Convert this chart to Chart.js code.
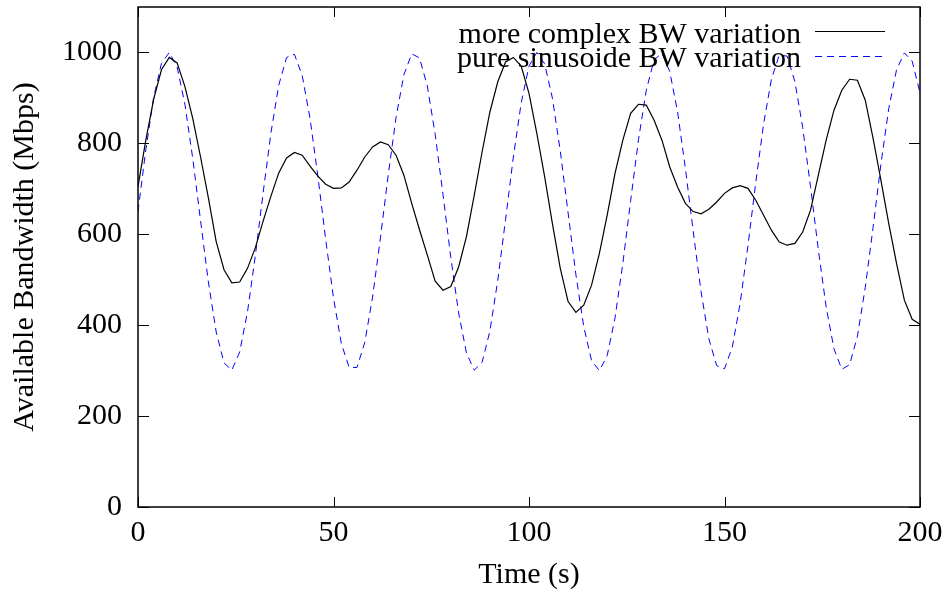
<!DOCTYPE html>
<html>
<head>
<meta charset="utf-8">
<script src="https://cdn.jsdelivr.net/npm/chart.js@4.4.1/dist/chart.umd.min.js"></script>
<style>
  html, body { margin: 0; padding: 0; background: #fff; }
  #wrap { width: 948px; height: 590px; }
</style>
</head>
<body>
<div id="wrap"><canvas id="bwChart" width="948" height="590"></canvas></div>
<script>
// sample times (s), one point every 2 s
const timeSec = [
  0, 2, 4, 6, 8, 10, 12, 14, 16, 18, 20, 22, 24, 26, 28, 30, 32, 34, 36, 38,
  40, 42, 44, 46, 48, 50, 52, 54, 56, 58, 60, 62, 64, 66, 68, 70, 72, 74, 76, 78,
  80, 82, 84, 86, 88, 90, 92, 94, 96, 98, 100, 102, 104, 106, 108, 110, 112, 114, 116, 118,
  120, 122, 124, 126, 128, 130, 132, 134, 136, 138, 140, 142, 144, 146, 148, 150, 152, 154, 156, 158,
  160, 162, 164, 166, 168, 170, 172, 174, 176, 178, 180, 182, 184, 186, 188, 190, 192, 194, 196, 198, 200
];

// black solid line (Mbps)
const complexBW = [
  705, 807, 897, 962, 989, 977, 925, 855, 770, 680, 584, 522, 493, 495, 525, 570, 629, 684, 735, 768,
  780, 774, 750, 728, 710, 701, 702, 715, 741, 770, 792, 803, 797, 774, 730, 668, 610, 554, 497, 477,
  485, 528, 595, 686, 781, 869, 935, 979, 989, 970, 910, 822, 727, 623, 525, 452, 428, 444, 488, 558,
  642, 734, 807, 866, 886, 884, 851, 807, 748, 704, 668, 650, 645, 655, 671, 690, 702, 707, 701, 675,
  642, 609, 583, 576, 580, 605, 653, 730, 807, 873, 917, 941, 939, 895, 811, 719, 624, 536, 455, 413, 402
];

// blue dashed line (Mbps)
const sineBW = [
  650, 786, 901, 976, 1000, 968, 886, 767, 630, 495, 385, 317, 301, 341, 429, 552, 691, 823, 928, 989,
  996, 949, 855, 728, 589, 460, 360, 307, 307, 362, 462, 592, 731, 857, 951, 997, 988, 926, 820, 688,
  549, 427, 339, 301, 318, 387, 498, 632, 770, 889, 970, 1000, 975, 899, 783, 647, 511, 397, 322, 300,
  333, 416, 536, 674, 808, 917, 984, 998, 958, 869, 745, 606, 474, 370, 311, 304, 352, 448, 575, 714,
  843, 941, 994, 992, 936, 835, 705, 566, 440, 348, 303, 313, 376, 483, 615, 754, 876, 962, 999, 981, 911
];

const seriesNames = ["more complex BW variation", "pure sinusoide BW variation"];
const xTicks = [0, 50, 100, 150, 200];
const yTicks = [0, 200, 400, 600, 800, 1000];

const FONT = "'Liberation Serif', 'Times New Roman', serif";
Chart.defaults.color = "#000";
Chart.defaults.font.family = FONT;
Chart.defaults.font.size = 30;

// gnuplot look: closed border, inward ticks on every side, key top right
const framePlugin = {
  id: "frame",
  afterDatasetsDraw(chart) {
    const { ctx, chartArea: a, scales } = chart;
    ctx.save();
    ctx.strokeStyle = "#000";
    ctx.lineWidth = 1;
    ctx.setLineDash([]);
    ctx.beginPath();
    xTicks.forEach((v) => {
      const px = Math.round(scales.x.getPixelForValue(v)) + 0.5;
      ctx.moveTo(px, a.bottom);
      ctx.lineTo(px, a.bottom - 10);
      ctx.moveTo(px, a.top);
      ctx.lineTo(px, a.top + 10);
    });
    yTicks.forEach((v) => {
      const py = Math.round(scales.y.getPixelForValue(v)) + 0.5;
      ctx.moveTo(a.left, py);
      ctx.lineTo(a.left + 11, py);
      ctx.moveTo(a.right, py);
      ctx.lineTo(a.right - 11, py);
    });
    ctx.stroke();

    ctx.lineWidth = 1.5;
    ctx.strokeRect(a.left, a.top, a.right - a.left, a.bottom - a.top);

    // key
    ctx.font = "30px " + FONT;
    ctx.textAlign = "right";
    ctx.textBaseline = "alphabetic";
    chart.data.datasets.forEach((ds, i) => {
      ctx.fillStyle = "#000";
      ctx.fillText(ds.label, a.right - 119, a.top + 36 + i * 24);
      ctx.strokeStyle = ds.borderColor;
      ctx.lineWidth = ds.borderWidth;
      ctx.setLineDash(ds.borderDash || []);
      ctx.beginPath();
      ctx.moveTo(a.right - 105, a.top + 24.5 + i * 25);
      ctx.lineTo(a.right - 35, a.top + 24.5 + i * 25);
      ctx.stroke();
    });
    ctx.restore();
  }
};

new Chart(document.getElementById("bwChart"), {
  type: "line",
  data: {
    datasets: [
      {
        label: seriesNames[0],
        data: timeSec.map((t, i) => ({ x: t, y: complexBW[i] })),
        borderColor: "#000000",
        borderWidth: 1.2,
        pointRadius: 0,
        tension: 0,
      },
      {
        label: seriesNames[1],
        data: timeSec.map((t, i) => ({ x: t, y: sineBW[i] })),
        borderColor: "#0000ff",
        borderWidth: 1,
        borderDash: [7, 5],
        pointRadius: 0,
        tension: 0,
      },
    ],
  },
  options: {
    responsive: false,
    animation: false,
    devicePixelRatio: 1,
    layout: { padding: { left: 0, right: 28, top: 7, bottom: 0 } },
    plugins: { legend: { display: false }, tooltip: { enabled: false } },
    scales: {
      x: {
        type: "linear",
        min: 0,
        max: 200,
        grid: { display: false, drawTicks: false },
        border: { display: false },
        afterBuildTicks: (s) => { s.ticks = xTicks.map((v) => ({ value: v })); },
        afterFit: (s) => { s.height = 83; s.paddingLeft = 0; s.paddingRight = 0; },
        ticks: { padding: 8, maxRotation: 0, autoSkip: false, callback: (v) => String(v) },
        title: {
          display: true,
          text: "Time (s)",
          padding: { top: 0, bottom: 0 },
          font: { size: 30, lineHeight: 1 },
        },
      },
      y: {
        type: "linear",
        min: 0,
        max: 1100,
        grid: { display: false, drawTicks: false },
        border: { display: false },
        afterBuildTicks: (s) => { s.ticks = yTicks.map((v) => ({ value: v })); },
        afterFit: (s) => { s.width = 138; s.paddingTop = 0; s.paddingBottom = 0; },
        ticks: { padding: 16, autoSkip: false, callback: (v) => String(v) },
        title: {
          display: true,
          text: "Available Bandwidth (Mbps)",
          padding: { top: 10, bottom: 0 },
          font: { size: 30, lineHeight: 1 },
        },
      },
    },
  },
  plugins: [framePlugin],
});
</script>
</body>
</html>
